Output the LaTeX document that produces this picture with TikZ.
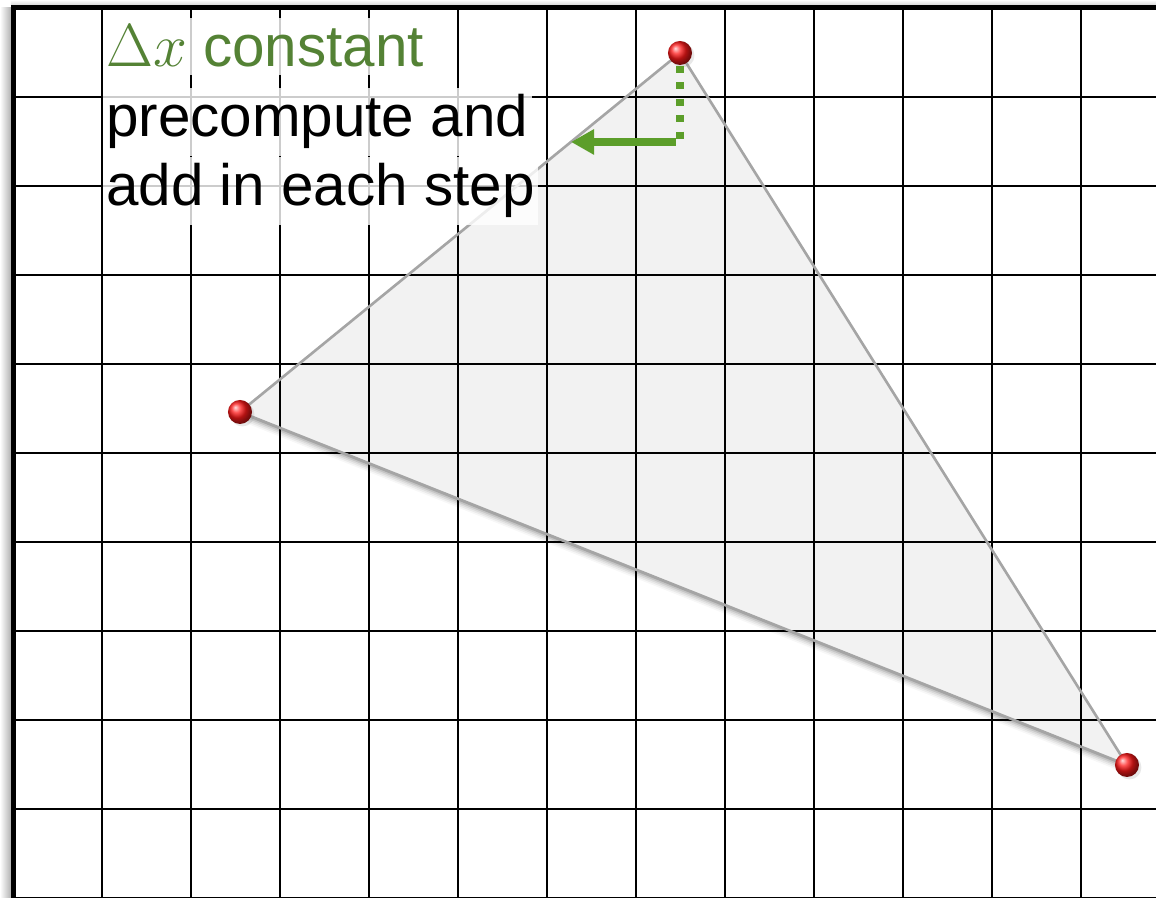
\documentclass[tikz,border=0pt]{standalone}
\usepackage{fontspec}
\setmainfont{Liberation Sans}
\usetikzlibrary{arrows.meta,positioning,shadows}
\definecolor{dxgreen}{RGB}{84,130,53}
\definecolor{stepgreen}{RGB}{92,158,42}
\definecolor{edgegray}{RGB}{165,165,165}
\definecolor{trifill}{RGB}{242,242,242}

\begin{document}
\begin{tikzpicture}[
  x=0.01cm,y=-0.01cm,
  every node/.style={font=\fontsize{16.6}{19.7}\selectfont, inner sep=0pt},
  vertex/.style={circle, minimum size=0.24cm, shading=ball, ball color=red!90!white,
    drop shadow={opacity=0.18, shadow xshift=0.7pt, shadow yshift=-0.7pt}},
  note/.style={anchor=base west, fill=white, fill opacity=0.8, text opacity=1,
    inner xsep=1pt, inner ysep=2pt},
  gridline/.style={black, line width=0.75pt},
  border/.style={black, line width=1.5pt},
  edge/.style={edgegray, line width=0.75pt}
]
\useasboundingbox (0,0) rectangle (1156,898);
\shade[left color=white, right color=black!30] (0,8) rectangle (11,898);
\shade[top color=white, bottom color=black!15] (11,0) rectangle (1156,5);

\coordinate (pT) at (680,53);
\coordinate (pL) at (240,412);
\coordinate (pR) at (1127,765);

% soft shadow under the triangle
\foreach \s/\o in {2/0.14,4/0.10,6/0.07,8/0.05,10/0.03} {
  \fill[black, opacity=\o]
    ([xshift=0.3*\s*0.01cm, yshift=-\s*0.01cm]pT) --
    ([xshift=0.3*\s*0.01cm, yshift=-\s*0.01cm]pL) --
    ([xshift=0.3*\s*0.01cm, yshift=-\s*0.01cm]pR) -- cycle;
}
\fill[trifill] (pT) -- (pL) -- (pR) -- cycle;

% grid
\foreach \x in {102,191,...,1081} {
  \draw[gridline] (\x,8) -- (\x,898);
}
\foreach \y in {97,186,...,898} {
  \draw[gridline] (13,\y) -- (1156,\y);
}
\draw[border] (13.5,898) -- (13.5,7.5) -- (1156,7.5);

\draw[edge] (pT) -- (pL) -- (pR) -- cycle;

\node[note, text=dxgreen] (dx) at (102,67) {$\Delta x$ constant};
\node[note] (pre) at (102,137) {precompute and};
\node[note] (add) at (102,206) {add in each step};

\node[vertex] (top) at (pT) {};
\node[vertex] (left) at (pL) {};
\node[vertex] (right) at (pR) {};

\coordinate (bend) at (680,142);
\coordinate (tip) at (571,142);
\draw[stepgreen, line width=0.07cm, dash pattern=on 0.07cm off 0.095cm] (top.south) -- (bend);
\draw[stepgreen, line width=0.08cm, -{Triangle[length=0.23cm,width=0.24cm]}] ([xshift=-0.04cm]bend) -- (tip);
\end{tikzpicture}
\end{document}
